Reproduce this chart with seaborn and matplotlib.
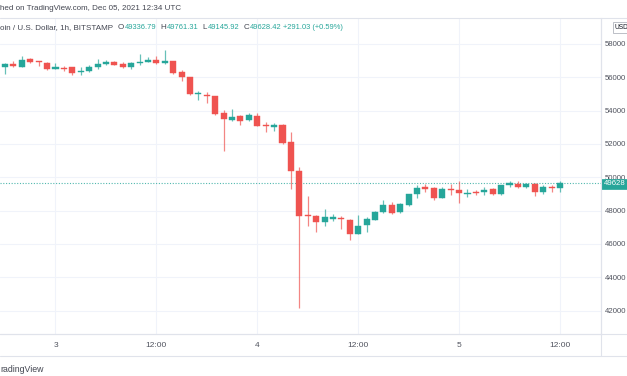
import matplotlib
matplotlib.use("Agg")
import matplotlib.pyplot as plt
import seaborn as sns
import numpy as np
import pandas as pd
from matplotlib.patches import Rectangle

# ---------------- data (hourly BTC/USD, Bitstamp, from Dec 2 18:00 UTC) ----------------
opens = [56640, 56780, 56640, 57100, 56940, 56880, 56520, 56540, 56600, 56300,
         56380, 56600, 56800, 56940, 56820, 56620, 56860, 56940, 57040, 56840,
         56960, 56320, 56000, 55000, 54960, 54860, 53860, 53440, 53660, 53440,
         53700, 53160, 53040, 53160, 52100, 50400, 47760, 47670, 47300, 47510,
         47570, 47450, 46590, 47140, 47450, 47920, 48330, 47920, 48330, 48980,
         49390, 49350, 48780, 49310, 49250, 49000, 49100, 49100, 49290, 48980,
         49510, 49610, 49430, 49610, 49100, 49410, 49336.79]
highs = [56840, 57000, 57300, 57140, 57000, 56940, 56840, 56700, 56640, 56600,
         56760, 57100, 57040, 57000, 56900, 56920, 57380, 57220, 57280, 57640,
         57000, 56440, 56040, 55180, 55140, 54900, 54060, 54100, 53760, 53880,
         53840, 53300, 53240, 53200, 52700, 50640, 48880, 47710, 48080, 47820,
         47650, 47510, 47710, 47590, 47960, 48630, 48530, 48450, 49020, 49510,
         49590, 49390, 49390, 49610, 49800, 49310, 49220, 49430, 49350, 49550,
         49750, 49800, 49650, 49650, 49510, 49550, 49761.31]
lows = [56200, 56600, 56620, 56860, 56680, 56460, 56520, 56400, 56160, 56160,
        56320, 56480, 56760, 56720, 56540, 56480, 56760, 56940, 56800, 56780,
        56200, 55800, 54920, 54640, 54460, 53760, 51600, 53400, 53120, 53400,
        53060, 52700, 52800, 52000, 49300, 42150, 47100, 46700, 47060, 47350,
        46900, 46230, 46570, 46740, 47410, 47880, 47820, 47880, 48290, 48780,
        49100, 48630, 48740, 48940, 48470, 48840, 48940, 48940, 48940, 48940,
        49390, 49350, 49350, 48900, 48980, 49100, 49145.92]
closes = [56780, 56660, 57040, 56900, 56900, 56520, 56620, 56500, 56280, 56400,
          56640, 56800, 56920, 56760, 56620, 56880, 56920, 57040, 56840, 56960,
          56280, 56020, 55000, 55080, 54880, 53800, 53500, 53640, 53380, 53760,
          53100, 53100, 53140, 52040, 50400, 47700, 47660, 47300, 47610, 47590,
          47470, 46570, 47100, 47470, 47920, 48330, 47860, 48370, 48980, 49350,
          49310, 48780, 49310, 49220, 49040, 49080, 49040, 49250, 48980, 49510,
          49630, 49390, 49610, 49140, 49390, 49350, 49628.42]

time_tick_hours = [6, 18, 30, 42, 54, 66]
time_tick_labels = ["3", "12:00", "4", "12:00", "5", "12:00"]
price_ticks = [42000, 44000, 46000, 48000, 50000, 52000, 54000, 56000, 58000]
last_price = 49628.42
legend_prefix = "oin / U.S. Dollar, 1h, BITSTAMP"
legend_items = [("O", "49336.79"), ("H", "49761.31"), ("L", "49145.92"), ("C", "49628.42")]
legend_change = "+291.03 (+0.59%)"

df = pd.DataFrame({"hour": np.arange(len(opens)), "open": opens, "high": highs,
                   "low": lows, "close": closes})
df["up"] = df["close"] >= df["open"]

# ---------------- style ----------------
sns.set_theme(style="white")
plt.rcParams["font.family"] = ["Liberation Sans", "DejaVu Sans"]

GREEN = "#26a69a"
RED = "#ef5350"
GRID = "#f0f3fa"
SEP = "#e0e3eb"
TXT = "#50535e"
DARK = "#434651"

W, H = 627, 376
fig = plt.figure(figsize=(W / 100, H / 100), dpi=100)
fig.patch.set_facecolor("white")

# main pane: x 0..601 px, y 18..334 px
ax = fig.add_axes([0, (H - 334) / H, 601 / W, (334 - 18) / H])
ax.set_facecolor("white")

colors = np.where(df["up"], GREEN, RED)
ax.vlines(df["hour"], df["low"], df["high"], colors=colors, linewidth=0.9, alpha=0.7, zorder=3)
body_bottom = np.minimum(df["open"], df["close"])
body_height = np.maximum(np.abs(df["close"] - df["open"]), 60)
ax.bar(df["hour"], body_height, bottom=body_bottom, width=0.72, color=colors,
       edgecolor=colors, linewidth=0.3, zorder=4)

# current price dotted line
ax.axhline(last_price, color=GREEN, linestyle=(0, (1, 1.5)), linewidth=0.8, alpha=0.8, zorder=2)

ax.set_xlim(-0.6, 70.88)
ax.set_ylim(40598, 59558)

ax.set_xticks(time_tick_hours)
ax.set_xticklabels(time_tick_labels)
ax.set_yticks(price_ticks)
ax.set_yticklabels([str(p) for p in price_ticks])
ax.yaxis.tick_right()
ax.tick_params(axis="y", length=0, pad=2.5, labelsize=5.6, labelcolor=TXT)
ax.tick_params(axis="x", length=0, pad=6, labelsize=6, labelcolor=TXT)
ax.grid(True, color=GRID, linewidth=0.8, zorder=0)
ax.set_axisbelow(True)
for s in ["top", "left"]:
    ax.spines[s].set_visible(False)
ax.spines["right"].set_color(SEP)
ax.spines["bottom"].set_color(SEP)
ax.spines["right"].set_linewidth(0.8)
ax.spines["bottom"].set_linewidth(0.8)

# ---------------- overlay for frame, header and labels (pixel coords) ----------------
ov = fig.add_axes([0, 0, 1, 1], zorder=10)
ov.set_xlim(0, W)
ov.set_ylim(H, 0)
ov.axis("off")
ov.patch.set_alpha(0)

ov.plot([0, W], [17.5, 17.5], color=SEP, lw=0.8)
ov.plot([0, W], [334, 334], color=SEP, lw=0.8)
ov.plot([0, W], [356, 356], color=SEP, lw=0.8)
ov.plot([601, 601], [17.5, 356], color=SEP, lw=0.8)

ov.text(0, 9, "hed on TradingView.com, Dec 05, 2021 12:34 UTC", fontsize=5.8,
        color=DARK, va="center", ha="left")

renderer = fig.canvas.get_renderer()


def place(x, s, color, fs=5.8, y=27.5):
    t = ov.text(x, y, s, fontsize=fs, color=color, va="center", ha="left")
    bb = t.get_window_extent(renderer=renderer)
    return x + bb.width


x = place(0, legend_prefix, DARK)
x += 4.5
for letter, val in legend_items:
    x = place(x, letter, DARK) + 0.8
    x = place(x, val, GREEN, fs=5.4) + 4
place(x - 2, legend_change, GREEN, fs=5.4)

# USD button (cut at right edge)
ov.add_patch(Rectangle((613, 22), 20, 11, facecolor="white", edgecolor="#b2b5be", lw=0.6))
ov.text(614.5, 27.5, "USD", fontsize=4.8, color="#131722", va="center", ha="left")

# last price label
ov.add_patch(Rectangle((601, 178.5), 30, 10.5, facecolor=GREEN, edgecolor=GREEN, lw=0.5))
ov.text(603.5, 183.8, "49628", fontsize=5.6, color="white", va="center", ha="left")

ov.text(0, 370, "radingView", fontsize=6.3, color=DARK, va="center", ha="left")

fig.savefig("out.png", dpi=100, facecolor="white")
